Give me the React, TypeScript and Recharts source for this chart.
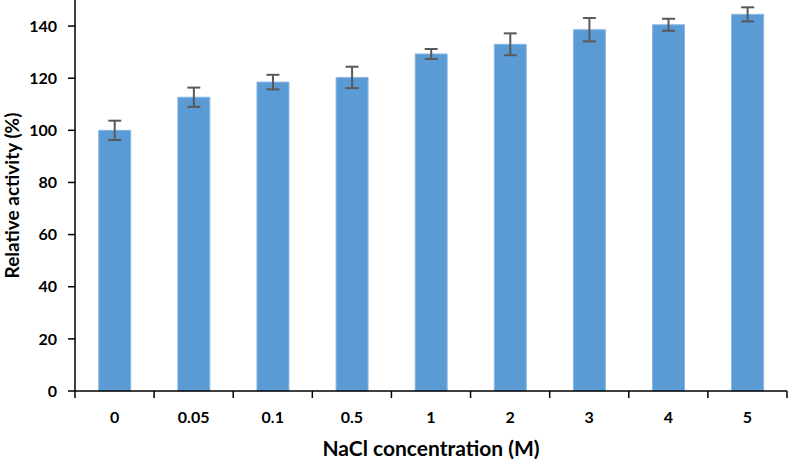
import React from "react";
import { BarChart, Bar, XAxis, YAxis, ErrorBar } from "recharts";

const categories = ["0", "0.05", "0.1", "0.5", "1", "2", "3", "4", "5"];
const activity = [100, 112.7, 118.5, 120.3, 129.3, 133, 138.6, 140.5, 144.5];
const errors = [3.7, 3.7, 2.8, 4.1, 1.9, 4.2, 4.5, 2.3, 2.7];
const yTicks = [0, 20, 40, 60, 80, 100, 120, 140];

const data = categories.map((c, i) => ({ conc: c, activity: activity[i], err: errors[i] }));

const FONT = "Lato, 'Open Sans', sans-serif";

const XTick = (props: any) => {
  const { x, y, payload, index } = props;
  const off = payload.offset || 0;
  const axisY = y - 8;
  return (
    <g>
      <line x1={x - off} x2={x - off} y1={axisY} y2={axisY + 7} stroke="#000" strokeWidth={1.5} />
      {index === categories.length - 1 && (
        <line x1={x + off} x2={x + off} y1={axisY} y2={axisY + 7} stroke="#000" strokeWidth={1.5} />
      )}
      <text x={x} y={axisY + 32} textAnchor="middle" fontFamily={FONT} fontWeight="bold" fontSize={16} fill="#000">
        {payload.value}
      </text>
    </g>
  );
};

const YLabel = (props: any) => {
  const vb = props.viewBox || {};
  const cy = vb.y + vb.height / 2;
  return (
    <text
      x={19}
      y={cy}
      transform={`rotate(-90, 19, ${cy})`}
      textAnchor="middle"
      fontFamily={FONT}
      fontWeight="bold"
      fontSize={19}
      fill="#000"
    >
      Relative activity (%)
    </text>
  );
};

export default function App() {
  return (
    <div style={{ position: "absolute", left: 0, top: 0, background: "#fff" }}>
      <BarChart
        width={788}
        height={459}
        data={data}
        margin={{ top: 0, right: 1, bottom: 0, left: 0 }}
        barCategoryGap="30%"
      >
        <XAxis
          dataKey="conc"
          height={68}
          stroke="#000"
          strokeWidth={1.5}
          tickLine={false}
          tick={<XTick />}
          interval={0}
          label={{
            value: "NaCl concentration (M)",
            position: "insideBottom",
            offset: 3,
            fontFamily: FONT,
            fontWeight: "bold",
            fontSize: 21,
            fill: "#000",
          }}
        />
        <YAxis
          width={75}
          domain={[0, 150]}
          ticks={yTicks}
          stroke="#000"
          strokeWidth={1.5}
          tickSize={7}
          tickMargin={11}
          tick={{ fontFamily: FONT, fontWeight: "bold", fontSize: 16, fill: "#000" }}
          label={<YLabel />}
        />
        <Bar dataKey="activity" fill="#5B9BD5" stroke="#8AB8E4" strokeWidth={1} isAnimationActive={false}>
          <ErrorBar dataKey="err" width={6.5} strokeWidth={2} stroke="#595959" direction="y" />
        </Bar>
      </BarChart>
    </div>
  );
}
